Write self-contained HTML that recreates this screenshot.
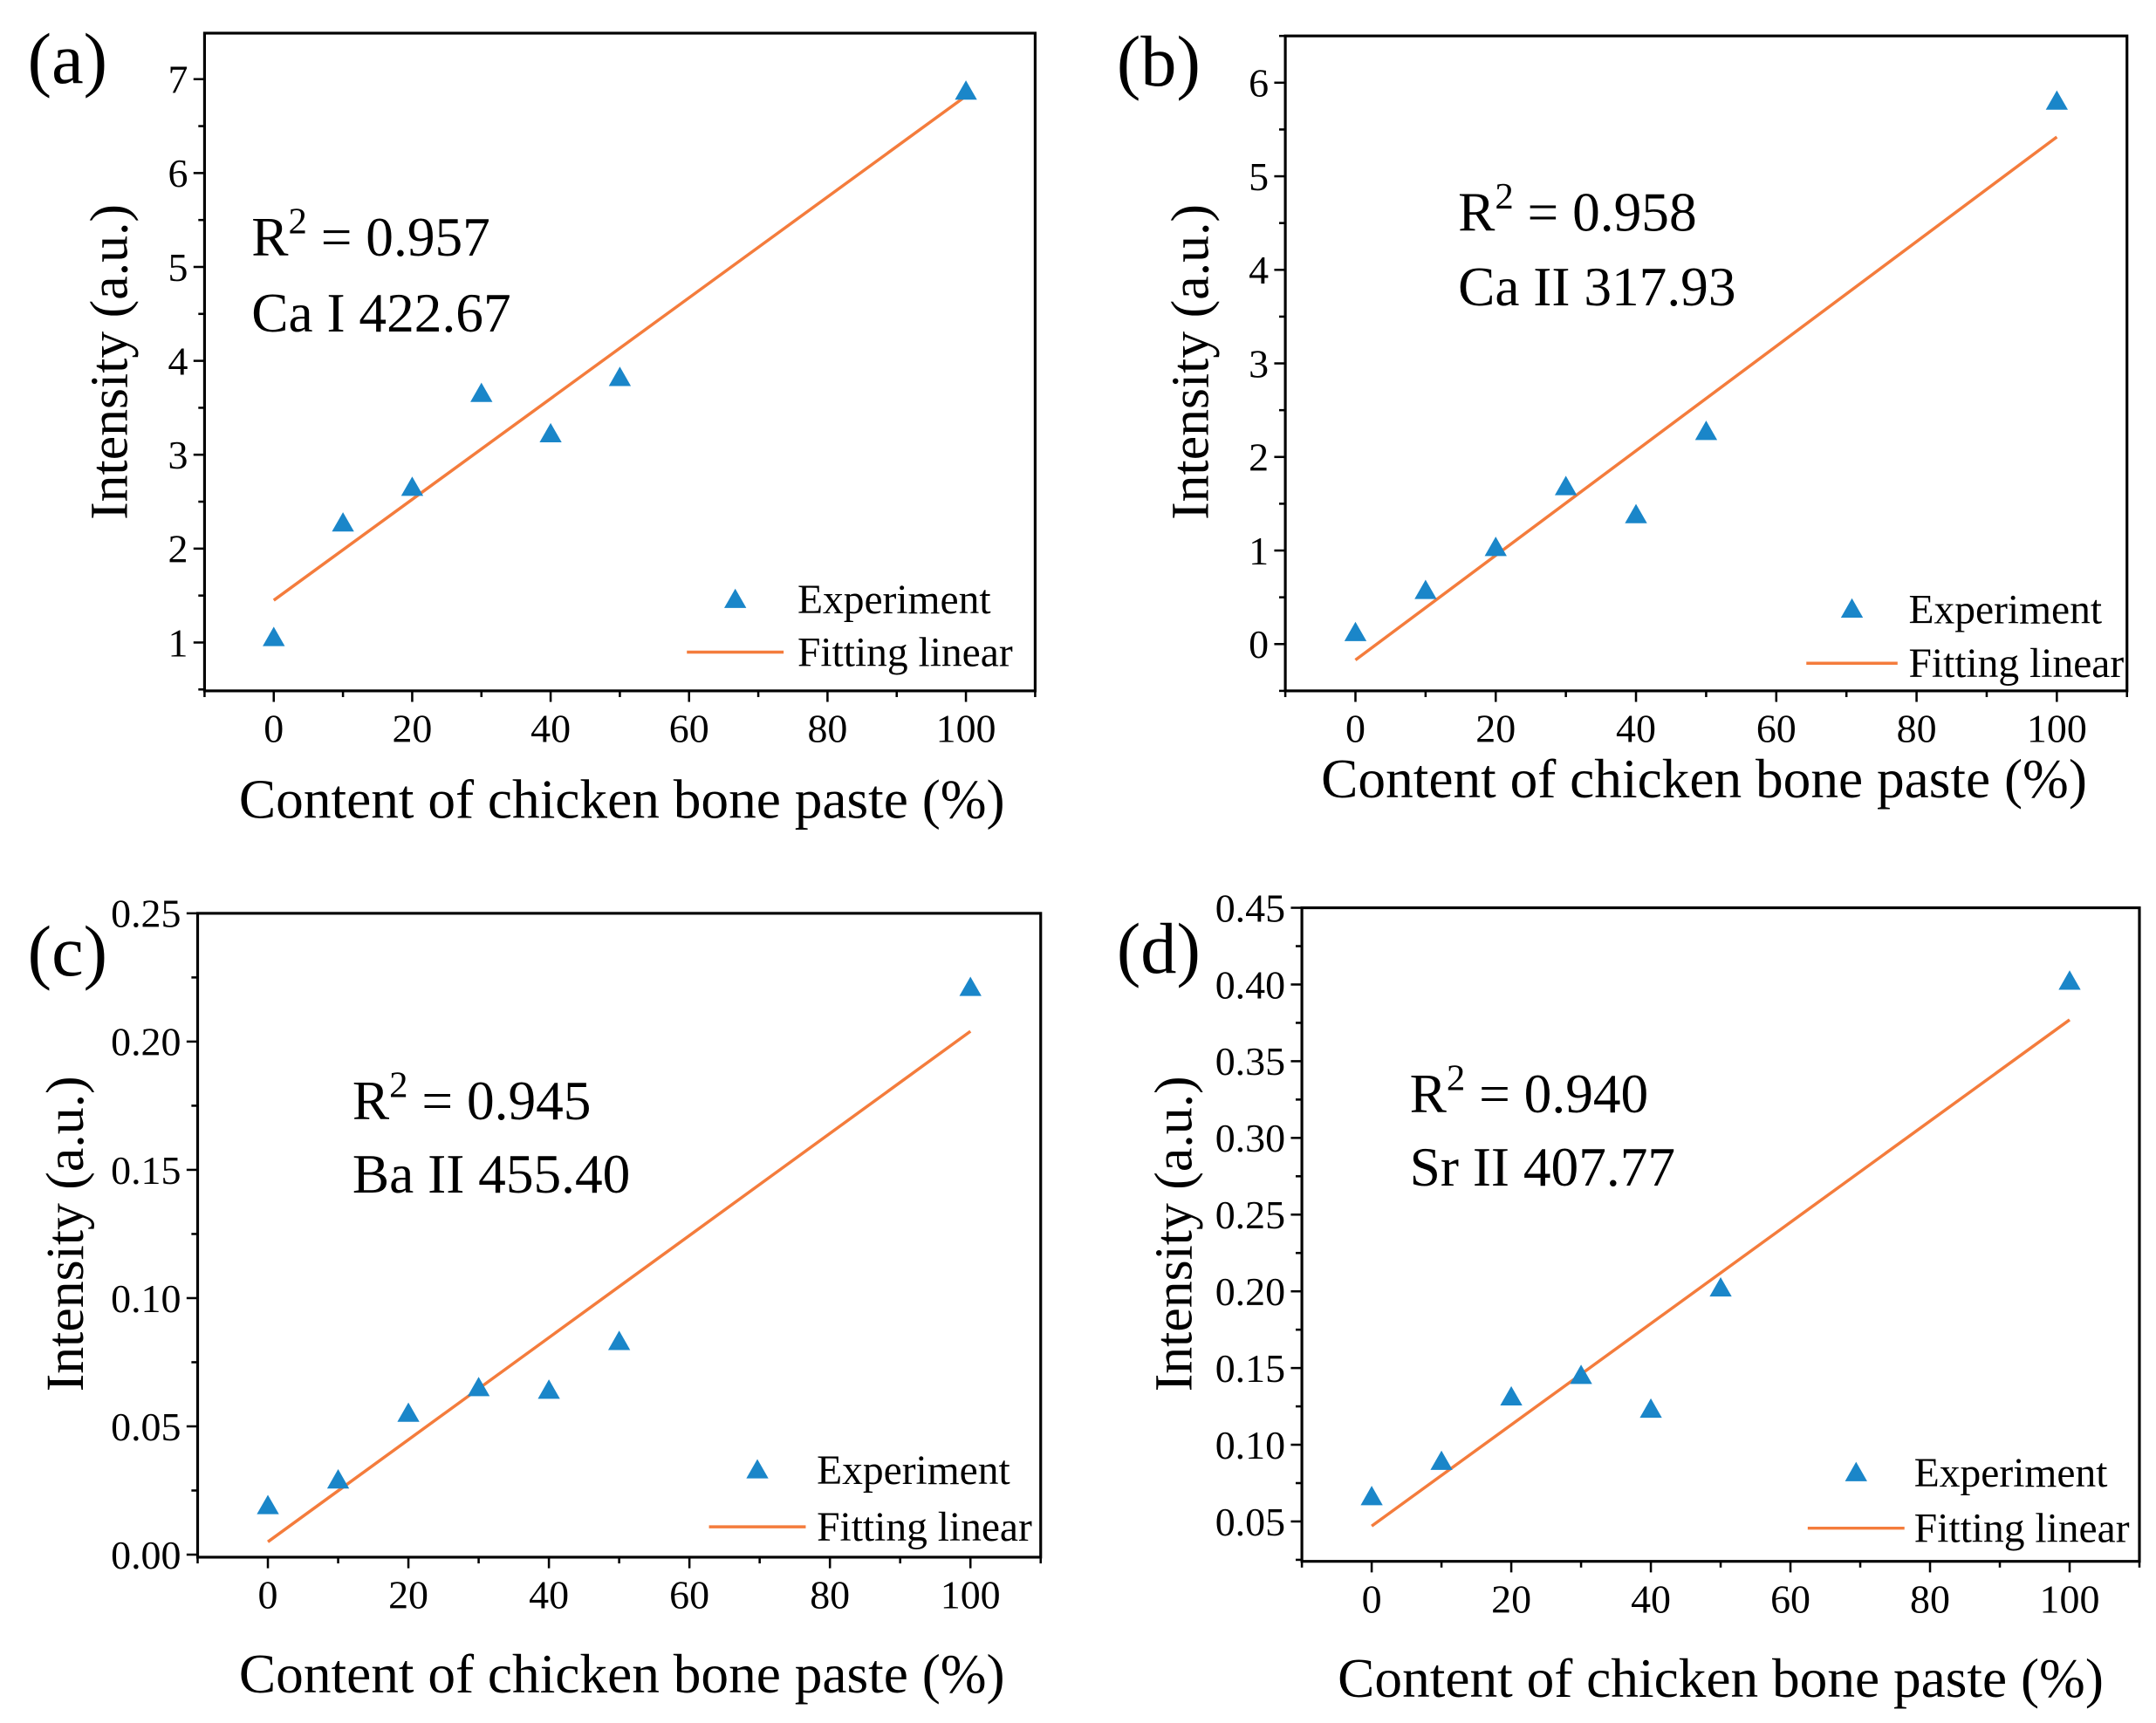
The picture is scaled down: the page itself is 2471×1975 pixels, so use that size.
<!DOCTYPE html>
<html><head><meta charset="utf-8"><style>
html,body{margin:0;padding:0;background:#fff;}
svg{display:block;font-family:"Liberation Serif","Times New Roman",serif;}
</style></head><body>
<svg id="fig" width="2471" height="1975" viewBox="0 0 1560 1247" preserveAspectRatio="none" xmlns="http://www.w3.org/2000/svg"></svg>
<script>
const categories = [0, 10, 20, 30, 40, 50, 100];
const seriesA = [1.05, 2.27, 2.65, 3.65, 3.22, 3.82, 6.87];
const seriesB = [0.12, 0.57, 1.03, 1.68, 1.38, 2.27, 5.80];
const seriesC = [0.019, 0.029, 0.055, 0.065, 0.064, 0.083, 0.221];
const seriesD = [0.066, 0.089, 0.131, 0.145, 0.123, 0.202, 0.402];
const fitA = [1.45, 6.82];
const fitB = [-0.17, 5.42];
const fitC = [0.005, 0.204];
const fitD = [0.047, 0.377];
const xTicks = [0, 20, 40, 60, 80, 100];
const yTicksA = ["1","2","3","4","5","6","7"];
const yTicksB = ["0","1","2","3","4","5","6"];
const yTicksC = ["0.00","0.05","0.10","0.15","0.20","0.25"];
const yTicksD = ["0.05","0.10","0.15","0.20","0.25","0.30","0.35","0.40","0.45"];

const NS = "http://www.w3.org/2000/svg";
const svg = document.getElementById('fig');
function mk(tag, attrs, parent, text) {
  const e = document.createElementNS(NS, tag);
  for (const k in attrs) e.setAttribute(k, attrs[k]);
  if (text !== undefined) e.textContent = text;
  parent.appendChild(e);
  return e;
}

const panels = [
  {id:'a', box:[148,24,749,500], ymin:0.485, ymax:7.49, minor:0.5, vals:seriesA, fit:fitA, yt:yTicksA,
   label:[20,60], r2:'0.957', line:'Ca I 422.67', txt:[182,185,240], leg:[532,577,497,567,434,472], ytitle:[92,262], xtitle:[450,592]},
  {id:'b', box:[930,26,1539,500], ymin:-0.5, ymax:6.5, minor:0.5, vals:seriesB, fit:fitB, yt:yTicksB,
   label:[808,62], r2:'0.958', line:'Ca II 317.93', txt:[1055,167,221], leg:[1340,1381,1307,1373,441,480], ytitle:[874,262], xtitle:[1233,577]},
  {id:'c', box:[143,661,753,1127], ymin:-0.001, ymax:0.25, minor:0.025, vals:seriesC, fit:fitC, yt:yTicksC,
   label:[20,706], r2:'0.945', line:'Ba II 455.40', txt:[255,810,863], leg:[548,591,513,583,1064,1105], ytitle:[60,893], xtitle:[450,1225]},
  {id:'d', box:[942,657,1548,1130], ymin:0.024, ymax:0.45, minor:0.025, vals:seriesD, fit:fitD, yt:yTicksD,
   label:[808,704], r2:'0.940', line:'Sr II 407.77', txt:[1020,805,858], leg:[1343,1385,1308,1378,1066,1106], ytitle:[862,893], xtitle:[1245,1228]}
];

panels.forEach(p => {
  const [L,T,R,B] = p.box;
  const g = mk('g', {}, svg);
  
  
  const xS = v => L + (v + 10) / 120 * (R - L);
  const yS = v => B - (v - p.ymin) / (p.ymax - p.ymin) * (B - T);

  const lab = mk('text', {x:p.label[0], y:p.label[1], 'font-size':52, fill:'#000'}, g, '(' + p.id + ')');
  
  

  const frame = mk('rect', {x:L, y:T, width:R-L, height:B-T, fill:'none', stroke:'#000', 'stroke-width':2}, g);
  
  

  for (let v = -10; v <= 110; v += 10) {
    const major = v % 20 === 0;
    mk('line', {x1:xS(v), x2:xS(v), y1:B, y2:B + (major ? 8 : 4.5), stroke:'#000', 'stroke-width':1.6}, g);
  }
  xTicks.forEach(v => {
    const t = mk('text', {x:xS(v), y:B + 37, 'font-size':29, 'text-anchor':'middle', fill:'#000'}, g, String(v));
    
    
  });
  const yvals = p.yt.map(Number);
  const step = yvals[1] - yvals[0];
  for (let v = yvals[0] - step; v <= p.ymax + 1e-9; v += p.minor) {
    if (v < p.ymin - 1e-9) continue;
    const rel = Math.abs(((v - yvals[0]) / step) - Math.round((v - yvals[0]) / step));
    const major = rel < 1e-6;
    mk('line', {x1:L, x2:L - (major ? 8 : 4.5), y1:yS(v), y2:yS(v), stroke:'#000', 'stroke-width':1.6}, g);
  }
  p.yt.forEach(s => {
    const t = mk('text', {x:L - 12, y:yS(Number(s)) + 10, 'font-size':29, 'text-anchor':'end', fill:'#000'}, g, s);
    
    
  });

  const yt = mk('text', {x:p.ytitle[0], y:p.ytitle[1], 'font-size':39, 'text-anchor':'middle', fill:'#000',
    transform:'rotate(-90 ' + p.ytitle[0] + ' ' + p.ytitle[1] + ')'}, g, 'Intensity (a.u.)');
  
  
  const xt = mk('text', {x:p.xtitle[0], y:p.xtitle[1], 'font-size':40, 'text-anchor':'middle', fill:'#000'}, g, 'Content of chicken bone paste (%)');
  
  

  const fl = mk('line', {x1:xS(categories[0]), y1:yS(p.fit[0]), x2:xS(categories[categories.length-1]), y2:yS(p.fit[1]), stroke:'#f47c3c', 'stroke-width':2.2}, g);
  
  

  p.vals.forEach((v, i) => {
    const cx = xS(categories[i]), cy = yS(v);
    const tri = mk('polygon', {points:`${cx},${cy-8} ${cx-8},${cy+6} ${cx+8},${cy+6}`, fill:'#1a86c9'}, g);
    
    
  });

  const r = mk('text', {x:p.txt[0], y:p.txt[1], 'font-size':40, fill:'#000'}, g);
  
  
  mk('tspan', {}, r, 'R');
  mk('tspan', {dy:-16, 'font-size':27}, r, '2');
  mk('tspan', {dy:16}, r, ' = ' + p.r2);
  const ln = mk('text', {x:p.txt[0], y:p.txt[2], 'font-size':40, fill:'#000'}, g, p.line);
  
  

  const [tx, lx, l1, l2, y1, y2] = p.leg;
  const lg = mk('g', {}, g);
  
  
  mk('polygon', {points:`${tx},${y1-8} ${tx-8},${y1+6} ${tx+8},${y1+6}`, fill:'#1a86c9'}, lg);
  mk('text', {x:lx, y:y1 + 10, 'font-size':30, fill:'#000'}, lg, 'Experiment');
  mk('line', {x1:l1, x2:l2, y1:y2, y2:y2, stroke:'#f47c3c', 'stroke-width':2.2}, lg);
  mk('text', {x:lx, y:y2 + 10, 'font-size':30, fill:'#000'}, lg, 'Fitting linear');
});
</script>
</body></html>
